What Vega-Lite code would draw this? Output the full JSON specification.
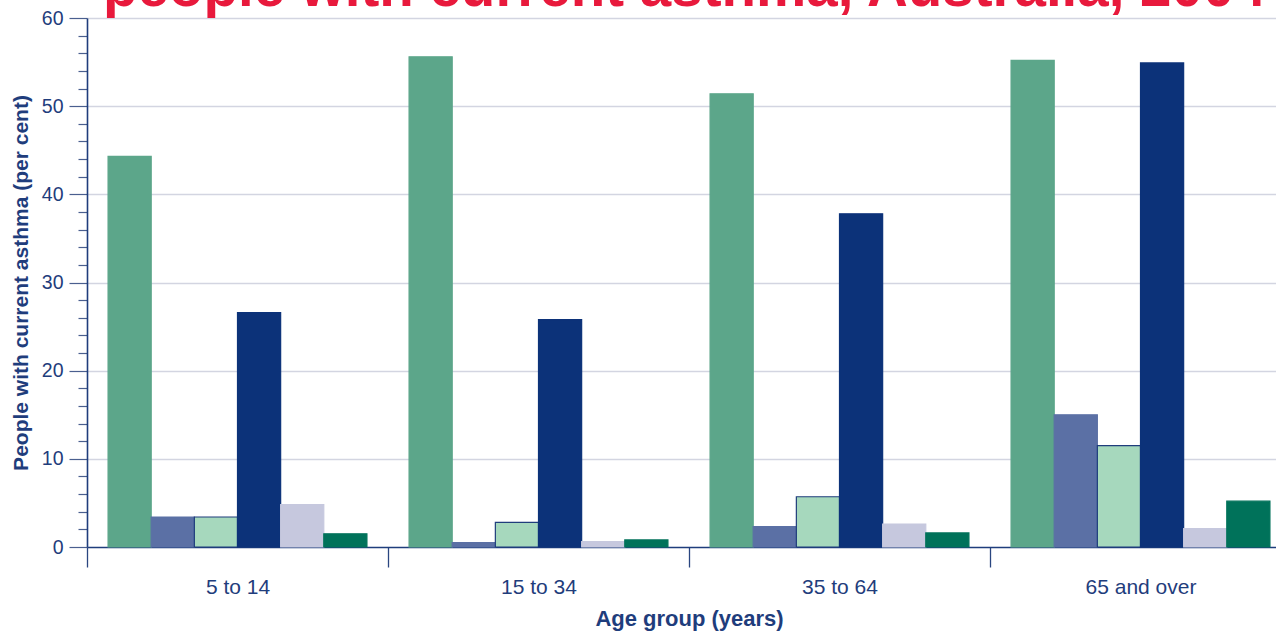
{
  "$schema": "https://vega.github.io/schema/vega-lite/v6.json",
  "width": 1189,
  "height": 529,
  "autosize": {"type": "none"},
  "padding": {"left": 87, "top": 18, "right": 0, "bottom": 84},
  "background": "white",
  "title": {
    "text": "people with current asthma, Australia, 2004",
    "color": "#e8193c",
    "font": "Liberation Sans",
    "fontSize": 56.5,
    "fontWeight": "bold",
    "anchor": "start",
    "frame": "group",
    "dx": 16,
    "dy": 13
  },
  "data": {
    "values": [
      {"age": "5 to 14", "series": "Series 1", "value": 44.3},
      {"age": "5 to 14", "series": "Series 2", "value": 3.4},
      {"age": "5 to 14", "series": "Series 3", "value": 3.4},
      {"age": "5 to 14", "series": "Series 4", "value": 26.6},
      {"age": "5 to 14", "series": "Series 5", "value": 4.8},
      {"age": "5 to 14", "series": "Series 6", "value": 1.5},
      {"age": "15 to 34", "series": "Series 1", "value": 55.6},
      {"age": "15 to 34", "series": "Series 2", "value": 0.5},
      {"age": "15 to 34", "series": "Series 3", "value": 2.8},
      {"age": "15 to 34", "series": "Series 4", "value": 25.8},
      {"age": "15 to 34", "series": "Series 5", "value": 0.6},
      {"age": "15 to 34", "series": "Series 6", "value": 0.8},
      {"age": "35 to 64", "series": "Series 1", "value": 51.4},
      {"age": "35 to 64", "series": "Series 2", "value": 2.3},
      {"age": "35 to 64", "series": "Series 3", "value": 5.7},
      {"age": "35 to 64", "series": "Series 4", "value": 37.8},
      {"age": "35 to 64", "series": "Series 5", "value": 2.6},
      {"age": "35 to 64", "series": "Series 6", "value": 1.6},
      {"age": "65 and over", "series": "Series 1", "value": 55.2},
      {"age": "65 and over", "series": "Series 2", "value": 15.0},
      {"age": "65 and over", "series": "Series 3", "value": 11.5},
      {"age": "65 and over", "series": "Series 4", "value": 54.9},
      {"age": "65 and over", "series": "Series 5", "value": 2.1},
      {"age": "65 and over", "series": "Series 6", "value": 5.2}
    ]
  },
  "mark": {"type": "bar", "strokeWidth": 1.2},
  "encoding": {
    "x": {
      "field": "age",
      "type": "nominal",
      "sort": ["5 to 14", "15 to 34", "35 to 64", "65 and over"],
      "scale": {"range": [0, 1204], "paddingInner": 0.14, "paddingOuter": 0.07},
      "axis": {
        "title": "Age group (years)",
        "titleFont": "Liberation Sans",
        "titleFontWeight": "bold",
        "titleFontSize": 22,
        "titleColor": "#1f3d7c",
        "titlePadding": 11,
        "labelFont": "Liberation Sans",
        "labelFontSize": 21,
        "labelColor": "#1f3d7c",
        "labelAngle": 0,
        "labelPadding": 9,
        "tickSize": 20,
        "tickColor": "#2a4680",
        "tickWidth": 1.3,
        "domainColor": "#1f3d7c",
        "domainWidth": 1.6,
        "bandPosition": 0,
        "tickOffset": -21,
        "labelOffset": 21,
        "grid": false
      }
    },
    "xOffset": {
      "field": "series",
      "type": "nominal",
      "sort": ["Series 1", "Series 2", "Series 3", "Series 4", "Series 5", "Series 6"],
      "scale": {"paddingInner": 0, "paddingOuter": 0}
    },
    "y": {
      "field": "value",
      "type": "quantitative",
      "scale": {"domain": [0, 60], "nice": false},
      "axis": {
        "title": "People with current asthma (per cent)",
        "titleFont": "Liberation Sans",
        "titleFontWeight": "bold",
        "titleFontSize": 21,
        "titleColor": "#1f3d7c",
        "titlePadding": 10,
        "values": [0, 2, 4, 6, 8, 10, 12, 14, 16, 18, 20, 22, 24, 26, 28, 30, 32, 34, 36, 38, 40, 42, 44, 46, 48, 50, 52, 54, 56, 58, 60],
        "labelExpr": "datum.value % 10 === 0 ? datum.label : ''",
        "labelFont": "Liberation Sans",
        "labelFontSize": 19.5,
        "labelColor": "#1f3d7c",
        "labelPadding": 6,
        "tickSize": 18,
        "tickDash": {"condition": {"test": "datum.value % 10 !== 0", "value": [9, 30]}, "value": []},
        "tickColor": "#4a5f8f",
        "tickWidth": 1.2,
        "domainColor": "#1f3d7c",
        "domainWidth": 1.6,
        "grid": true,
        "gridColor": "#d3d5e1",
        "gridWidth": 1.5,
        "gridOpacity": {"condition": {"test": "datum.value % 10 === 0 && datum.value > 0", "value": 1}, "value": 0}
      }
    },
    "color": {
      "field": "series",
      "type": "nominal",
      "scale": {
        "domain": ["Series 1", "Series 2", "Series 3", "Series 4", "Series 5", "Series 6"],
        "range": ["#5ca68a", "#5b70a5", "#a6d8bd", "#0c3279", "#c6c8de", "#00725a"]
      },
      "legend": null
    },
    "stroke": {
      "field": "series",
      "type": "nominal",
      "scale": {
        "domain": ["Series 1", "Series 2", "Series 3", "Series 4", "Series 5", "Series 6"],
        "range": ["#5ca68a", "#5b70a5", "#1f3d7c", "#0c3279", "#c6c8de", "#00725a"]
      },
      "legend": null
    }
  },
  "config": {"view": {"stroke": null}}
}
